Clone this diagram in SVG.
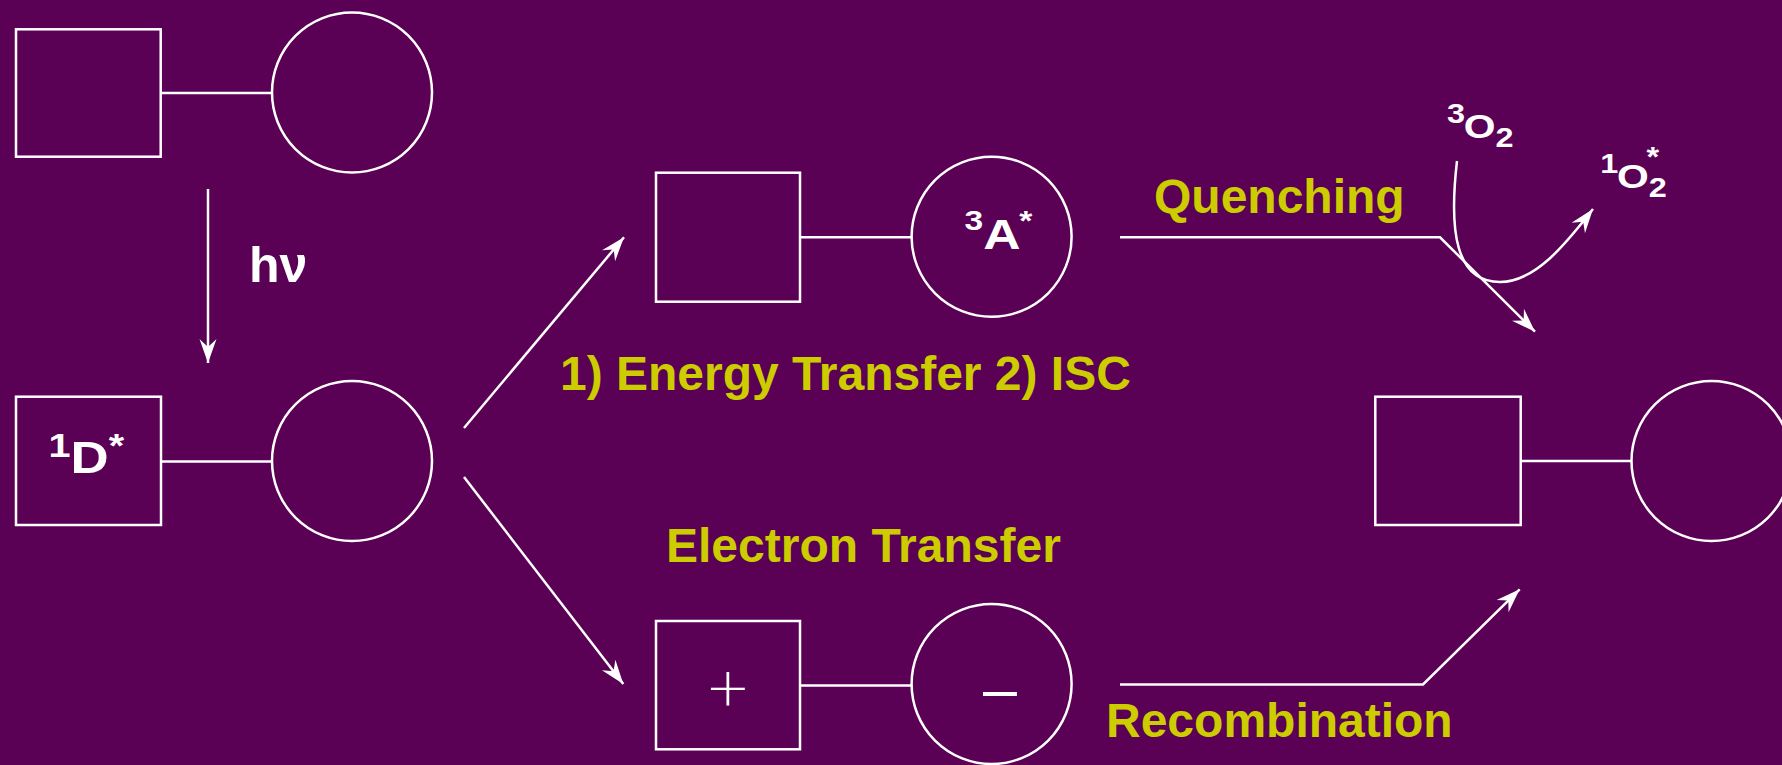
<svg xmlns="http://www.w3.org/2000/svg" width="1782" height="765" viewBox="0 0 1782 765">
<defs>
<style>
.shape{fill:none;stroke:#ffffff;stroke-width:2.5}
.conn{fill:none;stroke:#ffffff;stroke-width:2.5}
.wl{font-family:"Liberation Sans",Arial,sans-serif;font-weight:bold;fill:#ffffff}
.yl{font-family:"Liberation Sans",Arial,sans-serif;font-weight:bold;fill:#CCCC00;font-size:48px}
</style>
<marker id="ah" markerUnits="userSpaceOnUse" viewBox="-26 -10 28 20" markerWidth="28" markerHeight="20" refX="0" refY="0" orient="auto">
<path d="M0,0 L-24,-8.5 L-16,0 L-24,8.5 Z" fill="#ffffff"/>
</marker>
</defs>
<rect x="0" y="0" width="1782" height="765" fill="#5A0055"/>

<g id="ground-state">
<rect class="shape" x="16" y="29.3" width="144.7" height="127.4"/>
<line class="shape" x1="160.7" y1="93" x2="272" y2="93"/>
<circle class="shape" cx="352" cy="92.5" r="80"/>
</g>

<g id="excited-donor">
<rect class="shape" x="16" y="396.7" width="145" height="128.3"/>
<line class="shape" x1="161" y1="461.5" x2="272" y2="461.5"/>
<circle class="shape" cx="352" cy="461" r="80"/>
<text class="wl" transform="translate(48.5,473.3) scale(1.2,1)"><tspan font-size="33" y="-16.6">1</tspan><tspan font-size="44" y="0">D</tspan><tspan font-size="33" y="-16.7">*</tspan></text>
</g>

<g id="triplet-acceptor">
<rect class="shape" x="656" y="172.7" width="144" height="129"/>
<line class="shape" x1="800" y1="237.3" x2="911.6" y2="237.3"/>
<circle class="shape" cx="991.6" cy="236.7" r="80"/>
<text class="wl" transform="translate(964.6,249) scale(1.2,1)"><tspan font-size="28" y="-19">3</tspan><tspan font-size="43" y="0">A</tspan><tspan font-size="28" y="-19" dx="-1">*</tspan></text>
</g>

<g id="charge-separated">
<rect class="shape" x="656" y="621" width="144" height="128.3"/>
<line class="shape" x1="800" y1="685.5" x2="911.6" y2="685.5"/>
<circle class="shape" cx="991.6" cy="684" r="80"/>
<text x="727.8" y="706" text-anchor="middle" font-family="'DejaVu Sans',sans-serif" font-weight="200" font-size="54" fill="#ffffff">+</text>
<text x="1000" y="710" text-anchor="middle" font-family="'Liberation Sans',Arial,sans-serif" font-size="61" fill="#ffffff">–</text>
</g>

<g id="final-ground">
<rect class="shape" x="1375.3" y="396.7" width="145.4" height="128.3"/>
<line class="shape" x1="1520.7" y1="461" x2="1631.5" y2="461"/>
<circle class="shape" cx="1711.5" cy="461" r="80"/>
</g>

<g id="oxygen-triplet">
<text class="wl" transform="translate(1447,137.5) scale(1.2,1)"><tspan font-size="27" y="-14.2">3</tspan><tspan font-size="34" y="0" dx="-1">O</tspan><tspan font-size="27" y="9.8">2</tspan></text>
</g>

<g id="oxygen-singlet">
<text class="wl" transform="translate(1600.3,187.5) scale(1.2,1)"><tspan font-size="27" y="-14.2">1</tspan><tspan font-size="34" y="0" dx="-1">O</tspan><tspan font-size="27" y="9.8">2</tspan><tspan font-size="27" y="-22" dx="-17">*</tspan></text>
</g>

<g id="connectors">
<line class="conn" x1="208" y1="189" x2="208" y2="363" marker-end="url(#ah)"/>
<line class="conn" x1="464" y1="428" x2="624" y2="237.3" marker-end="url(#ah)"/>
<line class="conn" x1="464" y1="477" x2="623.3" y2="684" marker-end="url(#ah)"/>
<polyline class="conn" points="1120,237.3 1440,237.3 1535,331.7" marker-end="url(#ah)"/>
<polyline class="conn" points="1120,684.5 1423,684.5 1519.7,589.3" marker-end="url(#ah)"/>
<path class="conn" d="M1457,161 C1449,230 1455,282 1500,282 C1535,282 1565,245 1593,209" marker-end="url(#ah)"/>
</g>

<g id="labels">
<text class="wl" x="249" y="281.7" font-size="50">hν</text>
<text class="yl" x="1154" y="213.3">Quenching</text>
<text class="yl" x="560" y="390">1) Energy Transfer 2) ISC</text>
<text class="yl" x="666" y="561.7">Electron Transfer</text>
<text class="yl" x="1106" y="737.3">Recombination</text>
</g>
</svg>
